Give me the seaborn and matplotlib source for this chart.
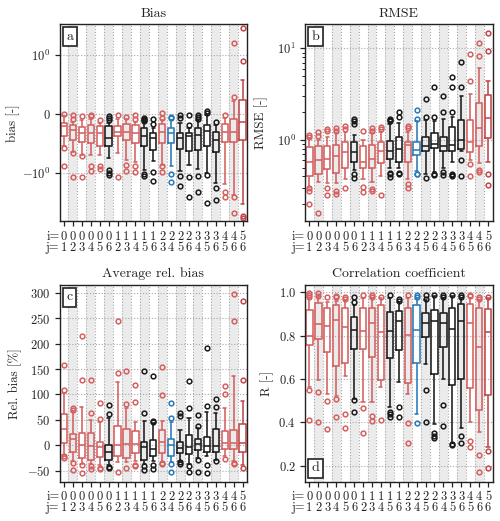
import numpy as np
import pandas as pd
import matplotlib
matplotlib.use("Agg")
import matplotlib.pyplot as plt
import seaborn as sns

# ---------------- data ----------------
pair_i = [0, 0, 0, 0, 0, 0, 1, 1, 1, 1, 1, 2, 2, 2, 2, 3, 3, 3, 4, 4, 5]
pair_j = [1, 2, 3, 4, 5, 6, 2, 3, 4, 5, 6, 3, 4, 5, 6, 4, 5, 6, 5, 6, 6]
groups = ['r', 'r', 'r', 'r', 'r', 'k', 'r', 'r', 'r', 'k', 'k', 'r', 'b', 'k', 'k',
          'k', 'k', 'k', 'r', 'r', 'dr']

# Bias (symlog)
bias_lo = [-0.55, -0.64, -0.69, -0.70, -0.70, -0.75, -0.67, -0.78, -0.81, -0.95, -0.79,
           -0.86, -0.88, -0.96, -0.86, -0.93, -1.00, -1.55, -1.65, -2.60, -3.80]
bias_q1 = [-0.37, -0.44, -0.47, -0.49, -0.55, -0.55, -0.38, -0.44, -0.50, -0.55, -0.61,
           -0.50, -0.50, -0.60, -0.63, -0.61, -0.54, -0.64, -0.47, -0.47, -0.44]
bias_med = [-0.21, -0.27, -0.32, -0.32, -0.33, -0.40, -0.30, -0.30, -0.33, -0.37, -0.40,
            -0.30, -0.32, -0.40, -0.38, -0.36, -0.29, -0.44, -0.31, -0.31, -0.13]
bias_q3 = [-0.16, -0.19, -0.22, -0.19, -0.21, -0.20, -0.21, -0.17, -0.19, -0.24, -0.33,
           -0.17, -0.24, -0.33, -0.33, -0.23, -0.19, -0.30, -0.17, -0.09, 0.24]
bias_hi = [-0.03, -0.13, -0.10, -0.08, -0.15, -0.16, -0.09, -0.09, -0.13, -0.14, -0.24,
           -0.11, -0.10, -0.15, -0.24, -0.11, -0.02, -0.19, -0.07, 0.22, 0.58]
bias_fl = [[-0.005, -0.58, -0.88], [-0.01, -0.09, -0.67, -1.18], [-0.04, -0.72, -1.19],
           [-0.01, -0.03, -0.88, -0.97], [-0.10, -0.88, -0.94],
           [-0.03, -0.07, -0.11, -0.95, -1.0, -1.08], [-0.02, -1.17], [-0.05, -0.86, -0.97],
           [-0.02, -0.09, -0.89, -0.98], [-0.07, -0.08, -0.10, -0.12, -1.05, -1.15],
           [-0.09, -0.17, -0.98, -1.45], [0.02, -0.07, -0.89, -0.99],
           [-0.06, -0.07, -1.04, -1.48], [-0.02, -0.07, -1.14, -1.76],
           [-0.02, -0.19, -1.17, -2.9], [-0.01, -0.05, -0.08, -1.12, -2.25],
           [0.05, 0.01, -1.08, -3.7], [-0.14, -1.9, -3.2], [-0.02, -2.25, -2.8],
           [1.66, 0.29, -2.8, -5.6], [3.18, 0.90, -6.6, -7.1]]

# RMSE (log)
rmse_lo = [0.31, 0.35, 0.34, 0.34, 0.37, 0.47, 0.37, 0.35, 0.40, 0.49, 0.49, 0.37, 0.46,
           0.43, 0.45, 0.49, 0.58, 0.75, 0.60, 0.56, 0.57]
rmse_q1 = [0.405, 0.43, 0.48, 0.44, 0.49, 0.58, 0.50, 0.49, 0.56, 0.62, 0.58, 0.57, 0.69,
           0.75, 0.81, 0.75, 0.76, 0.79, 0.73, 0.85, 1.04]
rmse_med = [0.58, 0.61, 0.62, 0.66, 0.73, 0.73, 0.58, 0.62, 0.75, 0.75, 0.79, 0.88, 0.78,
            0.85, 0.90, 0.85, 0.88, 1.00, 0.96, 1.34, 1.72]
rmse_q3 = [0.83, 0.86, 0.86, 0.88, 0.94, 0.94, 0.85, 0.88, 0.94, 0.98, 1.07, 0.94, 0.94,
           1.09, 1.18, 1.07, 1.37, 1.65, 1.65, 2.56, 3.10]
rmse_hi = [1.04, 1.00, 1.09, 1.18, 1.23, 1.12, 1.00, 1.18, 1.23, 1.50, 1.52, 1.23, 1.60,
           1.63, 1.60, 1.70, 1.80, 3.02, 3.18, 6.05, 4.44]
rmse_fl = [[1.09, 1.13, 0.30, 0.28, 0.20], [1.10, 1.23, 0.16], [1.26, 1.31, 0.30, 0.25],
           [1.26, 1.34, 0.28, 0.26], [1.31, 1.42, 0.30], [1.50, 1.60, 1.68, 0.43, 0.38],
           [1.26, 0.31, 0.27], [1.26, 1.34, 0.29, 0.28], [1.31, 1.40, 0.25],
           [1.60, 1.63, 1.68, 0.44, 0.42, 0.39], [1.77, 2.04, 0.44, 0.42],
           [1.35, 1.42, 0.33, 0.30], [1.68, 2.12, 0.43, 0.42], [1.80, 2.78, 0.38],
           [1.80, 3.82, 0.43, 0.41], [2.00, 3.02, 0.45, 0.41],
           [2.04, 3.76, 4.91, 0.43, 0.41, 0.40], [3.76, 7.10, 0.61, 0.40],
           [4.44, 8.70, 0.55, 0.40], [8.20, 11.3, 0.47, 0.45], [9.40, 14.6, 0.43, 0.32]]

# Average relative bias (%)
relb_lo = [-19, -32, -37, -37, -40, -40, -33, -34, -32, -37, -32, -33, -34, -31, -37, -26,
           -22, -29, -22, -32, -40]
relb_q1 = [4, -12.5, -26, -29, -24, -29, -21, -26, -16, -30, -21, -14.5, -22, -16, -17, -9,
           -14, -14, -8, -8, -12.5]
relb_med = [32, 12, 0, -1, -4, -12.5, 1, 3, 2, -4, -6.6, 7, 0.5, -6, -4, 2.6, -1.3, -2.6,
            5, 5, 5]
relb_q3 = [62, 22, 24, 25, 7, 1, 38, 32, 27, 7, 10.5, 29, 13, 7, 20, 12.5, 17, 32, 27, 30, 42]
relb_hi = [103, 66, 76, 50, 45, 53, 124, 73, 45, 47, 43, 47, 45, 30, 53, 33, 66, 63, 73, 137, 88]
relb_fl = [[108, 158, -22, -26], [70, 73, -36, -49], [128, 215, -39, -55], [64, 128, -41, -47],
           [52, 83, -45, -47], [62, 80, -44, -45], [143, 244, -52], [82, 147, -45],
           [86, 118, -39, -42], [64, 147, -41, -49], [45, 47, 137, -39, -47],
           [98, 154, -36, -37], [53, 83, -37, -52], [57, 64, -34, -37], [73, 126, -42, -52],
           [37, 59, -30, -52], [78, 191, -40, -55], [76, 91, -31], [100, 116, -27],
           [244, 298, -35, -37], [128, 284, -46]]

# Correlation coefficient
corr_lo = [0.565, 0.596, 0.53, 0.52, 0.615, 0.51, 0.496, 0.496, 0.565, 0.47, 0.588, 0.53,
           0.44, 0.67, 0.394, 0.60, 0.305, 0.374, 0.40, 0.358, 0.285]
corr_q1 = [0.757, 0.785, 0.727, 0.66, 0.673, 0.737, 0.737, 0.70, 0.596, 0.696, 0.734, 0.58,
           0.676, 0.796, 0.625, 0.75, 0.573, 0.60, 0.558, 0.458, 0.527]
corr_med = [0.80, 0.853, 0.845, 0.873, 0.838, 0.826, 0.823, 0.86, 0.819, 0.82, 0.87, 0.803,
            0.828, 0.857, 0.868, 0.857, 0.83, 0.87, 0.857, 0.75, 0.818]
corr_q3 = [0.92, 0.95, 0.926, 0.94, 0.926, 0.888, 0.93, 0.93, 0.94, 0.91, 0.915, 0.93, 0.94,
           0.906, 0.92, 0.903, 0.926, 0.946, 0.946, 0.93, 0.922]
corr_hi = [0.97, 0.98, 0.957, 0.96, 0.965, 0.94, 0.975, 0.975, 0.975, 0.975, 0.955, 0.975,
           0.97, 0.965, 0.985, 0.975, 0.985, 0.97, 0.975, 0.965, 0.975]
corr_fl = [[0.977, 0.988, 0.995, 0.55, 0.41], [0.985, 0.995, 0.542, 0.404], [0.98, 0.50, 0.37],
           [0.977, 0.983, 0.51, 0.425], [0.97, 0.977, 0.44, 0.374], [0.955, 0.98, 0.503, 0.45],
           [0.988, 0.466, 0.35], [0.98, 0.988, 0.43, 0.405], [0.98, 0.41],
           [0.988, 0.45, 0.44, 0.427], [0.962, 0.968, 0.473, 0.427], [0.988, 0.397, 0.305],
           [0.98, 0.988, 0.397], [0.97, 0.988, 0.55, 0.404], [0.99, 0.35, 0.336, 0.33],
           [0.98, 0.99, 0.48, 0.385], [0.99, 0.30, 0.298], [0.977, 0.988, 0.337, 0.306],
           [0.983, 0.99, 0.316, 0.289], [0.97, 0.977, 0.25, 0.17], [0.98, 0.27, 0.188]]

titles = ["Bias", "RMSE", "Average rel. bias", "Correlation coefficient"]
ylabels = ["bias [-]", "RMSE [-]", "Rel. bias [%]", "R [-]"]
letters = ["a", "b", "c", "d"]

# ---------------- style ----------------
sns.set_style("ticks")
plt.rcParams["font.family"] = ["cmr10", "DejaVu Serif"]
plt.rcParams["mathtext.fontset"] = "cm"
plt.rcParams["axes.formatter.use_mathtext"] = True
plt.rcParams["axes.unicode_minus"] = True

palette = {"r": "#d65f5f", "k": "#1a1a1a", "b": "#2a7ab9", "dr": "#c0474a"}
INK = "#222222"
TICK_FS = 9.0
LABEL_FS = 9.3
TITLE_FS = 10.0
YLABEL_X = [-0.212, -0.197, -0.198, -0.168]

labels = [f"{i}\n{j}" for i, j in zip(pair_i, pair_j)]


def build_frame(lo, q1, med, q3, hi, fl):
    parts = []
    for k in range(len(labels)):
        low = sorted(f for f in fl[k] if f < lo[k])
        high = sorted(f for f in fl[k] if f > hi[k])
        vals = (low + [lo[k]] * (150 - len(low)) + [q1[k]] * 250 + [med[k]] * 200
                + [q3[k]] * 250 + [hi[k]] * (150 - len(high)) + high)
        parts.append(pd.DataFrame({"pair": labels[k], "value": vals, "grp": groups[k]}))
    return pd.concat(parts, ignore_index=True)


fig = plt.figure(figsize=(5.0, 5.21), dpi=100)
W, H = 0.375, 0.378
axes = [fig.add_axes([0.119, 0.575, W, H]),
        fig.add_axes([0.610, 0.575, W, H]),
        fig.add_axes([0.119, 0.075, W, H]),
        fig.add_axes([0.610, 0.075, W, H])]

datasets = [(bias_lo, bias_q1, bias_med, bias_q3, bias_hi, bias_fl),
            (rmse_lo, rmse_q1, rmse_med, rmse_q3, rmse_hi, rmse_fl),
            (relb_lo, relb_q1, relb_med, relb_q3, relb_hi, relb_fl),
            (corr_lo, corr_q1, corr_med, corr_q3, corr_hi, corr_fl)]

n = len(labels)
for idx, (ax, ds) in enumerate(zip(axes, datasets)):
    df = build_frame(*ds)
    for g, c in palette.items():
        sub = df[df["grp"] == g]
        if sub.empty:
            continue
        sns.boxplot(data=sub, x="pair", y="value", order=labels, color=c, fill=False,
                    whis=(5, 95), width=0.7, linewidth=1.15, fliersize=3.4,
                    flierprops=dict(marker="o", markerfacecolor="none",
                                    markeredgecolor=c, markeredgewidth=1.1),
                    ax=ax)
    # background bands
    for k in range(1, n, 2):
        ax.axvspan(k - 0.5, k + 0.5, color="#ebebeb", lw=0, zorder=0)
    ax.set_axisbelow(True)

    if idx == 0:
        ax.set_yscale("symlog", linthresh=1.0)
        ax.set_ylim(-8.2, 3.75)
        ax.set_yticks([-1, 0, 1])
        ax.yaxis.set_minor_locator(matplotlib.ticker.NullLocator())
    elif idx == 1:
        ax.set_yscale("log")
        ax.set_ylim(0.129, 18.2)
    elif idx == 2:
        ax.set_ylim(-72.5, 316)
        ax.set_yticks(np.arange(-50, 301, 50))
    else:
        ax.set_ylim(0.126, 1.034)
        ax.set_yticks([0.2, 0.4, 0.6, 0.8, 1.0])

    ax.set_xlim(-0.38, 20.45)
    ax.set_xticks(range(n))
    ax.set_xticklabels(labels, linespacing=0.87)
    ax.set_xticks(np.arange(-0.5, n, 1.0), minor=True)
    ax.tick_params(axis="x", which="minor", length=0)
    ax.grid(False)
    ax.grid(which="minor", axis="x", linestyle=":", color="#a8a8a8", linewidth=0.8)
    ax.grid(which="major", axis="y", linestyle=":", color="#a8a8a8", linewidth=0.8)
    ax.tick_params(which="major", direction="out", length=3.5, width=0.9, pad=3,
                   labelsize=TICK_FS, color=INK, labelcolor=INK)
    ax.tick_params(axis="y", which="minor", direction="out", length=2, width=0.7, color=INK)
    for s in ax.spines.values():
        s.set_visible(True)
        s.set_linewidth(1.0)
        s.set_color(INK)

    ax.set_xlabel("")
    ax.set_ylabel(ylabels[idx], fontsize=LABEL_FS, color=INK)
    ax.yaxis.set_label_coords(YLABEL_X[idx], 0.5)
    ax.set_title(titles[idx], fontsize=TITLE_FS, color=INK, pad=5.5)

    ly = 0.07 if idx == 3 else 0.937
    ax.text(0.055, ly, letters[idx], transform=ax.transAxes, ha="center", va="center",
            fontsize=10, color=INK, zorder=10,
            bbox=dict(boxstyle="square,pad=0.25", fc="white", ec=INK, lw=1.2))

    trans, va, ha = ax.get_xaxis_text1_transform(3.5 + 3)
    ax.text(-0.5, 0, "i=\nj=", transform=trans, ha="right", va="top", fontsize=TICK_FS,
            color=INK, linespacing=0.87, clip_on=False)

fig.savefig("out.png", dpi=100)
